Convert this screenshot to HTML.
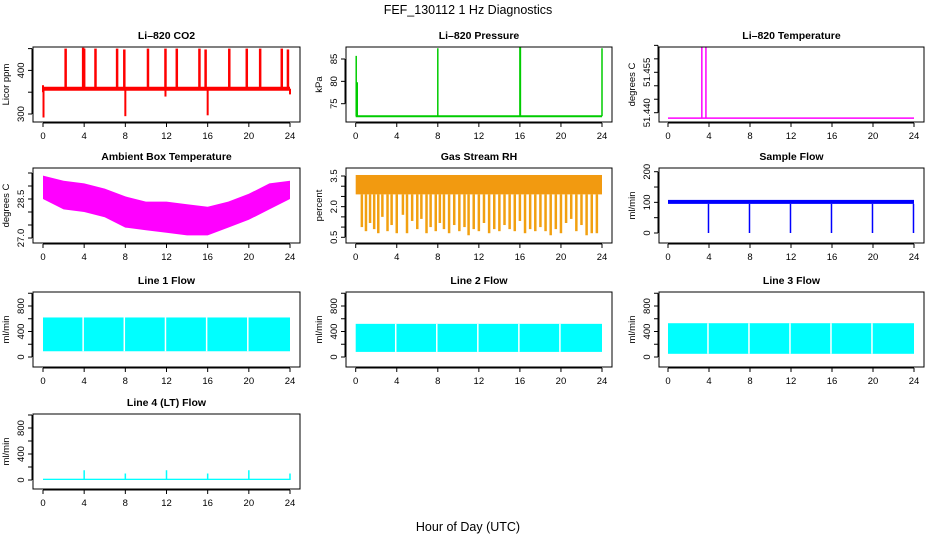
<!DOCTYPE html>
<html><head><meta charset="utf-8"><style>
html,body{margin:0;padding:0;background:#fff;}
svg{display:block;font-family:"Liberation Sans",sans-serif;}
</style></head><body>
<svg id="chart" width="936" height="540" viewBox="0 0 936 540" xmlns="http://www.w3.org/2000/svg">
<rect width="936" height="540" fill="#fff"/>
<text x="468" y="14" text-anchor="middle" font-size="12.5">FEF_130112  1 Hz Diagnostics</text>
<text x="468" y="531" text-anchor="middle" font-size="12.5">Hour of Day (UTC)</text>
</svg>
<script>
// ---- data ----
const xTicks = [0,4,8,12,16,20,24];
const co2Base = 358;
const co2SpikeHours = [2.2,3.9,4.0,5.1,7.2,7.9,10.2,11.9,13.0,15.2,15.8,18.1,19.8,21.1,23.2,23.8];
const co2SpikeValues = [450,452,450,450,450,448,450,450,450,450,448,450,450,450,450,448];
const co2DipHours = [0.05,8.0,11.9,16.0,24.0];
const co2DipValues = [292,295,340,297,345];
const presBase = 72.2;
const presSpikeHours = [0.05,0.15,8.0,16.0,16.05,24.0];
const presSpikeValues = [85.7,79.8,87.4,87.9,87.9,87.4];
const ltempBase = 51.438;
const ltempSpikeHours = [3.3,3.7];
const ltempSpikeValues = [51.466,51.466];
const ambHours = [0,2,4,6,8,10,12,14,16,18,20,22,24];
const ambUpper = [29.4,29.2,29.1,28.9,28.6,28.4,28.4,28.3,28.2,28.4,28.7,29.1,29.2];
const ambLower = [28.5,28.1,28.0,27.8,27.4,27.3,27.2,27.1,27.1,27.4,27.7,28.1,28.5];
const rhUpper = 3.55, rhBandLow = 2.6;
const rhDropHours = [0.6,1.0,1.4,1.8,2.2,2.6,3.1,3.5,4.0,4.6,5.0,5.5,6.0,6.4,6.9,7.3,7.8,8.2,8.6,9.1,9.6,10.1,10.6,11.0,11.5,12.0,12.5,13.0,13.5,14.0,14.5,15.0,15.5,16.0,16.5,17.0,17.5,18.0,18.5,19.0,19.5,20.0,20.5,21.0,21.5,22.0,22.5,23.0,23.5];
const rhDropValues = [1.0,0.8,1.2,0.9,0.7,1.5,0.8,1.1,0.7,1.6,0.7,1.3,0.9,1.4,0.7,1.0,0.8,1.2,0.9,0.7,1.1,0.8,1.0,0.6,0.9,0.8,1.2,0.7,0.9,0.8,1.1,0.9,0.8,1.3,0.7,0.9,0.8,1.0,0.8,0.6,0.9,0.7,1.2,1.4,0.8,1.1,0.6,0.7,0.7];
const sfUpper = 108, sfLower = 95;
const sfDropHours = [3.95,7.95,11.95,15.95,19.95,23.95];
const sfDropValues = [0,0,0,0,0,0];
const flowGapHours = [3.9,7.9,11.9,15.9,19.9];
const line1Range = [90,620];
const line2Range = [80,520];
const line3Range = [50,530];
const line4Range = [0,20];
const line4SpikeHours = [4.0,8.0,12.0,16.0,20.0,24.0];
const line4SpikeValues = [150,100,150,100,150,100];

// ---- layout ----
const NS="http://www.w3.org/2000/svg";
const svg=document.getElementById('chart');
const cols=[{l:33,r:300,h0:43,h24:290},{l:346,r:612,h0:355.7,h24:602},{l:659,r:924,h0:668,h24:914}];
const rows=[{t:47,b:122},{t:168,b:243},{t:292,b:367},{t:414,b:489}];
function el(tag,attrs,parent){const e=document.createElementNS(NS,tag);for(const k in attrs)e.setAttribute(k,attrs[k]);(parent||svg).appendChild(e);return e;}

function panel(name,title,ci,ri,yref,yTicks,yLabels,ylab){
  const c=cols[ci],r=rows[ri];
  const g=el('g',{});
  
  
  const X=h=>c.h0+(h/24)*(c.h24-c.h0);
  const k=(yref[3]-yref[1])/(yref[2]-yref[0]);
  const Y=v=>yref[1]+(v-yref[0])*k;
  const t=el('text',{x:(c.l+c.r)/2,y:r.t-8,'text-anchor':'middle','font-size':'10.5','font-weight':'bold'},g);
  t.textContent=title;
  
  
  const cp='cp'+name;
  const d=el('clipPath',{id:cp},g);el('rect',{x:c.l,y:r.t,width:c.r-c.l,height:r.b-r.t},d);
  const plot=el('g',{'clip-path':'url(#'+cp+')'},g);
  
  
  el('rect',{x:c.l,y:r.t,width:c.r-c.l,height:r.b-r.t,fill:'none',stroke:'#000','stroke-width':1},g);
  const xa=el('g',{},g);
  
  
  el('line',{x1:X(0),x2:X(24),y1:r.b+1,y2:r.b+1,stroke:'#000'},xa);
  xTicks.forEach(h=>{el('line',{x1:X(h),x2:X(h),y1:r.b+1,y2:r.b+5,stroke:'#000'},xa);
    const tt=el('text',{x:X(h),y:r.b+17,'text-anchor':'middle','font-size':'9.5'},xa);tt.textContent=h;});
  const ya=el('g',{},g);
  
  
  el('line',{x1:c.l-1,x2:c.l-1,y1:Y(yTicks[0]),y2:Y(yTicks[yTicks.length-1]),stroke:'#000'},ya);
  yTicks.forEach((v,i)=>{const y=Y(v);el('line',{x1:c.l-5,x2:c.l-1,y1:y,y2:y,stroke:'#000'},ya);
    if(yLabels[i]){const tt=el('text',{x:c.l-9,y:y,'text-anchor':'middle','font-size':'9.5',transform:'rotate(-90 '+(c.l-9)+' '+y+')'},ya);tt.textContent=yLabels[i];}});
  const yl=el('text',{x:c.l-24,y:(r.t+r.b)/2,'text-anchor':'middle','font-size':'9.5',transform:'rotate(-90 '+(c.l-24)+' '+((r.t+r.b)/2)+')'},g);
  yl.textContent=ylab;
  
  
  return {plot,X,Y};
}
function vline(p,x,y1,y2,col,w){el('line',{x1:x,x2:x,y1:y1,y2:y2,stroke:col,'stroke-width':w||1.5},p);}

(function(){const P=panel('co2','Li\u2013820 CO2',0,0,[300,114,400,70.4],[300,350,400,450],['300','','400',''],'Licor ppm');
  el('line',{x1:P.X(0),x2:P.X(24),y1:P.Y(co2Base),y2:P.Y(co2Base),stroke:'#f00','stroke-width':4},P.plot);
  el('line',{x1:P.X(0),x2:P.X(0),y1:P.Y(co2Base-8),y2:P.Y(co2Base+8),stroke:'#f00','stroke-width':2},P.plot);
  co2SpikeHours.forEach((h,i)=>vline(P.plot,P.X(h),P.Y(co2Base),P.Y(co2SpikeValues[i]),'#f00',2.5));
  co2DipHours.forEach((h,i)=>vline(P.plot,P.X(h),P.Y(co2Base),P.Y(co2DipValues[i]),'#f00',2));})();
(function(){const P=panel('pressure','Li\u2013820 Pressure',1,0,[75,103.7,85,59],[75,80,85],['75','80','85'],'kPa');
  el('line',{x1:P.X(0),x2:P.X(24),y1:P.Y(presBase),y2:P.Y(presBase),stroke:'#0c0','stroke-width':2},P.plot);
  presSpikeHours.forEach((h,i)=>vline(P.plot,P.X(h),P.Y(presBase),P.Y(presSpikeValues[i]),'#0c0',1.5));})();
(function(){const P=panel('li820-temp','Li\u2013820 Temperature',2,0,[51.44,112.7,51.455,72.3],[51.44,51.445,51.45,51.455,51.46,51.465],['51.440','','','51.455','',''],'degrees C');
  el('line',{x1:P.X(0),x2:P.X(24),y1:P.Y(ltempBase),y2:P.Y(ltempBase),stroke:'#f0f','stroke-width':1.5},P.plot);
  ltempSpikeHours.forEach((h,i)=>vline(P.plot,P.X(h),P.Y(ltempBase),P.Y(ltempSpikeValues[i]),'#f0f',1.5));})();
(function(){const P=panel('ambient-temp','Ambient Box Temperature',0,1,[27,238,28.5,199],[27,27.5,28,28.5,29,29.5],['27.0','','','28.5','',''],'degrees C');
  let pts=ambHours.map((h,i)=>P.X(h)+','+P.Y(ambUpper[i]));
  pts=pts.concat(ambHours.map((h,i)=>P.X(h)+','+P.Y(ambLower[i])).reverse());
  el('polygon',{points:pts.join(' '),fill:'#f0f'},P.plot);})();
(function(){const P=panel('gas-rh','Gas Stream RH',1,1,[0.5,237.3,3.5,176],[0.5,1,1.5,2,2.5,3,3.5],['0.5','','','2.0','','','3.5'],'percent');
  el('rect',{x:P.X(0),y:P.Y(rhUpper),width:P.X(24)-P.X(0),height:P.Y(rhBandLow)-P.Y(rhUpper),fill:'#f29a10'},P.plot);
  rhDropHours.forEach((h,i)=>vline(P.plot,P.X(h),P.Y(rhBandLow),P.Y(rhDropValues[i]),'#f2a010',2.5));})();
(function(){const P=panel('sample-flow','Sample Flow',2,1,[0,233,200,171.7],[0,50,100,150,200],['0','','100','','200'],'ml/min');
  el('rect',{x:P.X(0),y:P.Y(sfUpper),width:P.X(24)-P.X(0),height:P.Y(sfLower)-P.Y(sfUpper),fill:'#00f'},P.plot);
  sfDropHours.forEach((h,i)=>vline(P.plot,P.X(h),P.Y(sfLower),P.Y(sfDropValues[i]),'#00f',1.5));})();
function flow(name,title,ci,ri,range,yref){
  const P=panel(name,title,ci,ri,yref,[0,200,400,600,800,1000],['0','','400','','800',''],'ml/min');
  el('rect',{x:P.X(0),y:P.Y(range[1]),width:P.X(24)-P.X(0),height:P.Y(range[0])-P.Y(range[1]),fill:'#0ff'},P.plot);
  flowGapHours.forEach(h=>vline(P.plot,P.X(h),P.Y(range[0]),P.Y(range[1]),'#fff',1.5));
  return P;}
flow('line1-flow','Line 1 Flow',0,2,line1Range,[0,357,800,306]);
flow('line2-flow','Line 2 Flow',1,2,line2Range,[0,357,800,306]);
flow('line3-flow','Line 3 Flow',2,2,line3Range,[0,357,800,306]);
(function(){const P=panel('line4-flow','Line 4 (LT) Flow',0,3,[0,480,800,428],[0,200,400,600,800,1000],['0','','400','','800',''],'ml/min');
  el('rect',{x:P.X(0),y:P.Y(line4Range[1]),width:P.X(24)-P.X(0),height:P.Y(line4Range[0])-P.Y(line4Range[1]),fill:'#0ff'},P.plot);
  line4SpikeHours.forEach((h,i)=>vline(P.plot,P.X(h),P.Y(0),P.Y(line4SpikeValues[i]),'#0ff',1.5));})();
</script>
</body></html>
